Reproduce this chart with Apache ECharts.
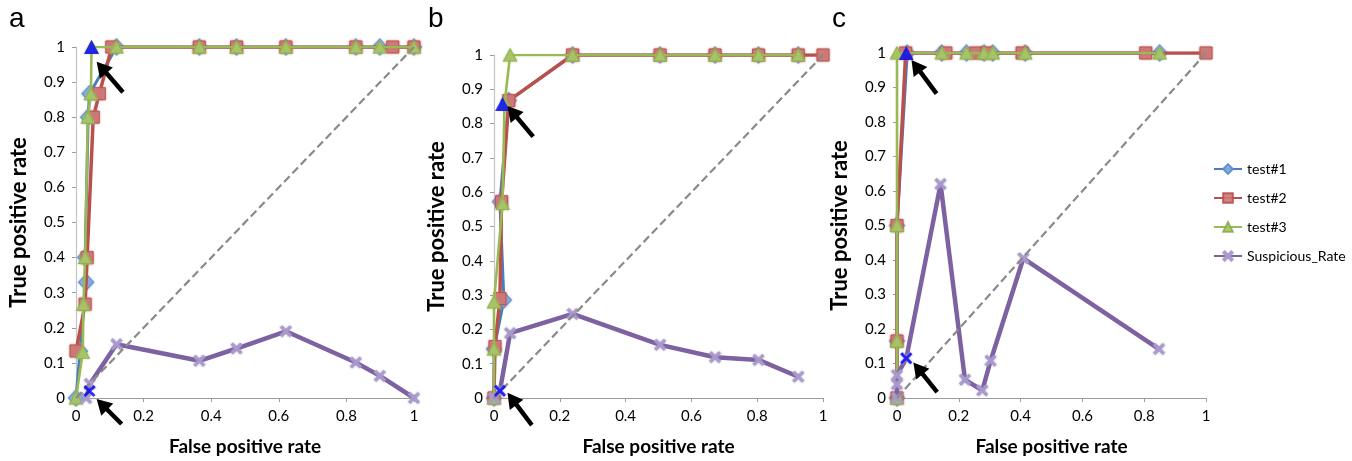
<!DOCTYPE html>
<html><head><meta charset="utf-8">
<script src="https://cdn.jsdelivr.net/npm/echarts@6/dist/echarts.min.js"></script>
<style>html,body{margin:0;padding:0;background:#fff}#c{width:1352px;height:461px}</style>
</head><body><div id="c"></div>
<script>
// ---------- data ----------
const seriesNames = ['test#1', 'test#2', 'test#3', 'Suspicious_Rate'];
const panelLabels = ['a', 'b', 'c'];
const xTickStep = 0.2;
const yTickStep = 0.1;

// panel a
const a_test1 = [[0,0],[0.012,0.133],[0.03,0.33],[0.027,0.4],[0.036,0.8],[0.04,0.867],[0.12,1],[0.365,1],[0.475,1],[0.621,1],[0.828,1],[0.899,1],[1,1]];
const a_test2 = [[0,0.134],[0.027,0.267],[0.033,0.4],[0.051,0.8],[0.069,0.867],[0.106,1],[0.365,1],[0.475,1],[0.621,1],[0.828,1],[0.937,1],[1,1]];
const a_test3 = [[0,0],[0.02,0.13],[0.022,0.267],[0.027,0.4],[0.035,0.8],[0.044,0.867],[0.046,1],[0.12,1],[0.365,1],[0.475,1],[0.621,1],[0.828,1],[0.899,1],[1,1]];
const a_susp  = [[0.03,0],[0.041,0.04],[0.12,0.153],[0.365,0.106],[0.475,0.141],[0.621,0.19],[0.828,0.101],[0.899,0.063],[1,0]];
const a_hiTri = [[0.046,1]];
const a_hiX   = [[0.04,0.02]];
const a_arrows = [[0.139,0.871,0.061,0.958],[0.135,-0.074,0.061,-0.003]];

// panel b
const b_test1 = [[0,0],[0,0.143],[0.03,0.286],[0.018,0.572],[0.045,0.867],[0.239,1],[0.505,1],[0.672,1],[0.804,1],[0.925,1]];
const b_test2 = [[0,0],[0.003,0.15],[0.018,0.29],[0.023,0.572],[0.045,0.867],[0.239,1],[0.505,1],[0.672,1],[0.804,1],[0.925,1],[1,1]];
const b_test3 = [[0,0],[0,0.143],[0,0.28],[0.026,0.567],[0.032,0.857],[0.049,1],[0.239,1],[0.505,1],[0.672,1],[0.804,1],[0.925,1]];
const b_susp  = [[0,0],[0.018,0.021],[0.049,0.189],[0.239,0.245],[0.505,0.155],[0.672,0.119],[0.804,0.111],[0.925,0.062]];
const b_hiTri = [[0.026,0.857]];
const b_hiX   = [[0.018,0.021]];
const b_arrows = [[0.119,0.762,0.041,0.851],[0.115,-0.079,0.041,0.015]];

// panel c
const c_test1 = [[0,0],[0,0.165],[0,0.5],[0.033,1],[0.145,1],[0.225,1],[0.282,1],[0.31,1],[0.415,1],[0.85,1]];
const c_test2 = [[0,0],[0,0.165],[0,0.5],[0.028,1],[0.158,1],[0.255,1],[0.29,1],[0.405,1],[0.805,1],[1,1]];
const c_test3 = [[0,0],[0,0.165],[0,0.5],[0,1],[0.145,1],[0.225,1],[0.282,1],[0.31,1],[0.415,1],[0.85,1]];
const c_susp  = [[0,0],[0,0.04],[0,0.066],[0.03,0.115],[0.141,0.62],[0.22,0.053],[0.276,0.022],[0.303,0.108],[0.409,0.405],[0.848,0.142]];
const c_hiTri = [[0.03,1]];
const c_hiX   = [[0.03,0.115]];
const c_arrows = [[0.128,0.882,0.047,0.98],[0.13,0.017,0.053,0.103]];

const diagonal = [[0,0],[1,1]];

// ---------- layout / style ----------
const panels = [
  {t1:a_test1, t2:a_test2, t3:a_test3, s:a_susp, hiTri:a_hiTri, hiX:a_hiX, arrows:a_arrows},
  {t1:b_test1, t2:b_test2, t3:b_test3, s:b_susp, hiTri:b_hiTri, hiX:b_hiX, arrows:b_arrows},
  {t1:c_test1, t2:c_test2, t3:c_test3, s:c_susp, hiTri:c_hiTri, hiX:c_hiX, arrows:c_arrows}
];
const grids = [
  {left:76, top:47, width:338, height:352},
  {left:494, top:55, width:329, height:343},
  {left:897, top:53, width:309, height:348}
];
const labelPos = [{left:9, top:5}, {left:428, top:5}, {left:832, top:5}];
const FONT = 'Lato';
const X_SYMBOL = 'path://M0,1.6 L1.6,0 L5,3.4 L8.4,0 L10,1.6 L6.6,5 L10,8.4 L8.4,10 L5,6.6 L1.6,10 L0,8.4 L3.4,5 Z';

const styles = [
  {symbol:'diamond', size:[15,16], line:'#4a7ebb', width:3, fill:'#84abdf', border:'#5a8bc9'},
  {symbol:'rect', size:12, line:'#b9504c', width:3.5, fill:'#cc7875', border:'#b9504c'},
  {symbol:'triangle', size:[13,12], line:'#98b954', width:2.6, fill:'#a6c467', border:'#8eae4c'},
  {symbol:X_SYMBOL, size:11, line:'#7d61a1', width:4.5, fill:'#a89acb', border:'#a89acb'}
];

function arrowRender(params, api) {
  const p1 = api.coord([api.value(0), api.value(1)]);
  const p2 = api.coord([api.value(2), api.value(3)]);
  const dx = p2[0]-p1[0], dy = p2[1]-p1[1];
  const len = Math.sqrt(dx*dx+dy*dy);
  const ux = dx/len, uy = dy/len;
  const head = 15, hw = 8.5;
  const bx = p2[0]-ux*head, by = p2[1]-uy*head;
  return {
    type:'group', silent:true,
    children:[
      {type:'line', shape:{x1:p1[0], y1:p1[1], x2:bx+ux*2, y2:by+uy*2}, style:{stroke:'#000', lineWidth:4.5}},
      {type:'polygon', shape:{points:[[p2[0],p2[1]],[bx-uy*hw, by+ux*hw],[bx+uy*hw, by-ux*hw]]}, style:{fill:'#000'}}
    ]
  };
}

const xAxes = [], yAxes = [], series = [], titles = [];
grids.forEach((g, i) => {
  xAxes.push({
    type:'value', gridIndex:i, min:0, max:1, interval:xTickStep,
    name:'False positive rate', nameLocation:'middle', nameGap:39,
    nameTextStyle:{fontFamily:FONT, fontWeight:'bold', fontSize:19, color:'#000'},
    axisLine:{show:true, onZero:false, lineStyle:{color:'#9c9c9c', width:1.2}},
    axisTick:{show:true, length:4, lineStyle:{color:'#9c9c9c'}},
    splitLine:{show:false},
    axisLabel:{fontFamily:FONT, fontSize:15, color:'#000', margin:11}
  });
  yAxes.push({
    type:'value', gridIndex:i, min:0, max:1, interval:yTickStep,
    name:'True positive rate', nameLocation:'middle', nameGap:46,
    nameTextStyle:{fontFamily:FONT, fontWeight:'bold', fontSize:22, color:'#000'},
    axisLine:{show:true, onZero:false, lineStyle:{color:'#c4c4c4', width:1.2}},
    axisTick:{show:true, length:4, lineStyle:{color:'#9c9c9c'}},
    splitLine:{show:false},
    axisLabel:{fontFamily:FONT, fontSize:15, color:'#000', margin:11}
  });
  titles.push({text:panelLabels[i], left:labelPos[i].left, top:labelPos[i].top, padding:0,
    textStyle:{fontFamily:'Liberation Sans', fontWeight:'normal', fontSize:28, color:'#000'}});

  const p = panels[i];
  const datas = [p.t1, p.t2, p.t3, p.s];
  datas.forEach((d, k) => {
    const st = styles[k];
    series.push({
      type:'line', name:seriesNames[k], xAxisIndex:i, yAxisIndex:i, data:d,
      symbol:st.symbol, symbolSize:st.size, showAllSymbol:true, animation:false, silent:true,
      lineStyle:{color:st.line, width:st.width},
      itemStyle:{color:st.fill, borderColor:st.border, borderWidth:1, opacity:0.9, shadowBlur:2, shadowColor:st.fill},
      emphasis:{disabled:true}, z:2+k
    });
  });
  series.push({
    type:'line', name:'diag', xAxisIndex:i, yAxisIndex:i, data:diagonal, symbol:'none',
    animation:false, silent:true, lineStyle:{color:'#8a8a8a', width:2.2, type:[8,4]}, z:7
  });
  series.push({
    type:'scatter', name:'hiTri', xAxisIndex:i, yAxisIndex:i, data:p.hiTri, symbol:'triangle', symbolSize:[15,14],
    itemStyle:{color:'#0000ff'}, animation:false, silent:true, z:9
  });
  series.push({
    type:'scatter', name:'hiX', xAxisIndex:i, yAxisIndex:i, data:p.hiX, symbol:X_SYMBOL, symbolSize:12,
    itemStyle:{color:'#0000ff'}, animation:false, silent:true, z:9
  });
  series.push({
    type:'custom', name:'arrows', xAxisIndex:i, yAxisIndex:i, data:p.arrows, renderItem:arrowRender,
    clip:false, animation:false, silent:true, z:10, encode:{x:[0,2], y:[1,3]}
  });
});

const chart = echarts.init(document.getElementById('c'), null, {renderer:'canvas'});
chart.setOption({
  backgroundColor:'#fff',
  animation:false,
  title:titles,
  grid:grids,
  xAxis:xAxes,
  yAxis:yAxes,
  legend:{
    data:seriesNames, orient:'vertical', left:1208, top:157, itemWidth:28, itemHeight:12, itemGap:15,
    textStyle:{fontFamily:FONT, fontSize:14, color:'#000'}, selectedMode:false
  },
  series:series
});
</script></body></html>
